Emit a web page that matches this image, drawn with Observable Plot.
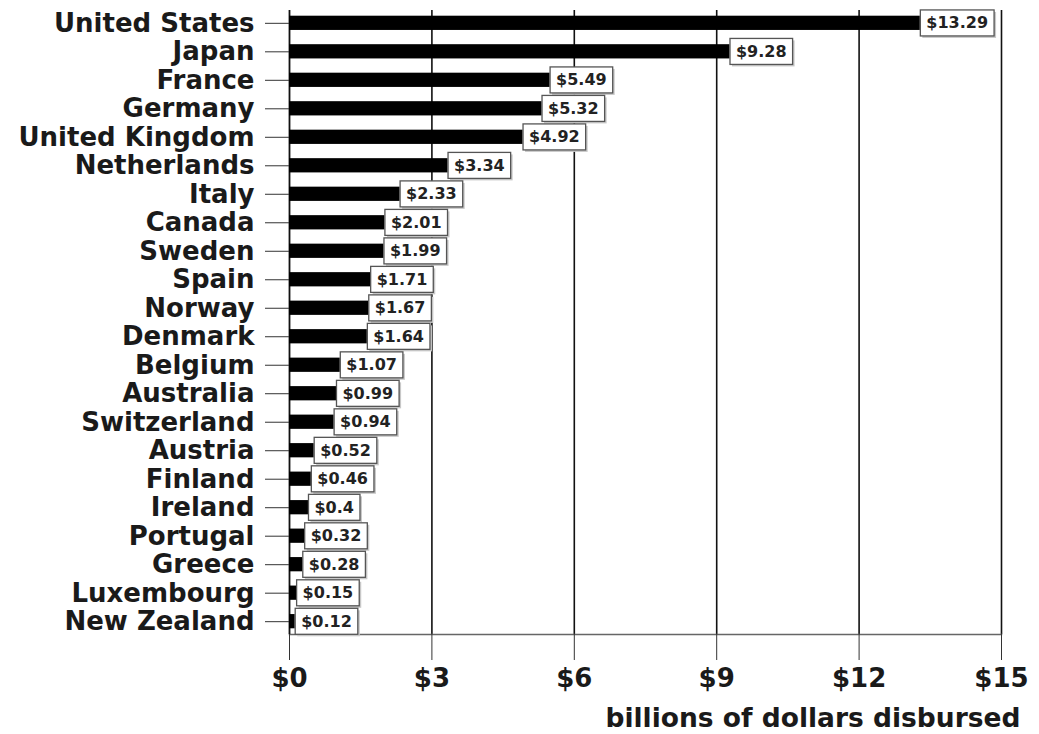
<!DOCTYPE html>
<html><head><meta charset="utf-8">
<script src="https://cdn.jsdelivr.net/npm/d3@7"></script>
<script src="https://cdn.jsdelivr.net/npm/@observablehq/plot@0.6"></script>
<style>body{margin:0;background:#fff}</style>
</head><body><div id="chart"></div>
<script>
const countries = ["United States","Japan","France","Germany","United Kingdom","Netherlands","Italy","Canada","Sweden","Spain","Norway","Denmark","Belgium","Australia","Switzerland","Austria","Finland","Ireland","Portugal","Greece","Luxembourg","New Zealand"];
const values = [13.29,9.28,5.49,5.32,4.92,3.34,2.33,2.01,1.99,1.71,1.67,1.64,1.07,0.99,0.94,0.52,0.46,0.4,0.32,0.28,0.15,0.12];
const xTicks = [0,3,6,9,12,15];
const gridTicks = [3,6,9,12,15];
const axisTitle = "billions of dollars disbursed";

const data = countries.map((c, i) => ({country: c, value: values[i]}));
const fmt = v => "$" + v;

const chart = Plot.plot({
  width: 1039, height: 734,
  marginLeft: 289, marginRight: 38, marginTop: 10, marginBottom: 100,
  style: {fontFamily: "DejaVu Sans", background: "white", color: "#111"},
  x: {domain: [0, 15]},
  y: {domain: countries, paddingInner: 0.5, paddingOuter: 0.2, round: false},
  marks: [
    Plot.ruleX(gridTicks, {stroke: "#111", strokeWidth: 1.6}),
    Plot.frame({anchor: "bottom", stroke: "#666", strokeWidth: 1.5}),
    Plot.ruleX([0], {stroke: "#111", strokeWidth: 1.8}),
    Plot.barX(data, {x: "value", y: "country", fill: "#000"}),
    Plot.text(data, {x: "value", y: "country", text: d => fmt(d.value), textAnchor: "start", dx: 6, fontSize: 16, fontWeight: "bold", fill: "#222"}),
    Plot.axisY({tickSize: 24, tickPadding: 11, fontSize: 26, fontWeight: "bold", label: null, stroke: "#333", color: "#1a1a1a"}),
    Plot.axisX({ticks: xTicks, tickFormat: fmt, tickSize: 26, tickPadding: 8, fontSize: 26, fontWeight: "bold", label: null, stroke: "#333", color: "#1a1a1a"}),
    Plot.text([axisTitle], {frameAnchor: "bottom-right", lineAnchor: "middle", dx: 19, dy: 84, fontSize: 26.5, fontWeight: "bold", fill: "#1a1a1a"})
  ]
});
document.getElementById("chart").append(chart);

// draw boxes behind the value labels
const ns = "http://www.w3.org/2000/svg";
chart.querySelectorAll('g[aria-label="text"] text').forEach(t => {
  if (!t.textContent.startsWith("$")) return;
  const bb = t.getBBox();
  const tr = t.getAttribute("transform");
  const cy = bb.y + bb.height / 2;
  const mk = (dx, dy, fill, stroke) => {
    const r = document.createElementNS(ns, "rect");
    r.setAttribute("x", bb.x - 6 + dx);
    r.setAttribute("y", cy - 13 + dy);
    r.setAttribute("width", bb.width + 12);
    r.setAttribute("height", 26);
    r.setAttribute("fill", fill);
    if (stroke) { r.setAttribute("stroke", stroke); r.setAttribute("stroke-width", 1.3); }
    if (tr) r.setAttribute("transform", tr);
    t.parentNode.insertBefore(r, t);
  };
  mk(2, 2, "#c8c8c8", null);
  mk(0, 0, "#fff", "#555");
});
</script>
</body></html>
